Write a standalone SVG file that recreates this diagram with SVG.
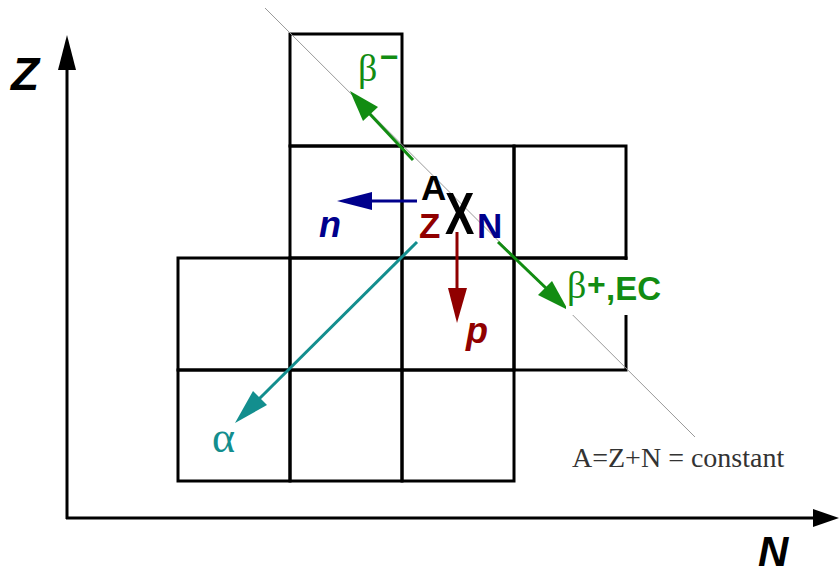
<svg xmlns="http://www.w3.org/2000/svg" width="840" height="576" viewBox="0 0 840 576">
<style>
.cell{fill:none;stroke:#000;stroke-width:3}
.ax{stroke:#000;stroke-width:3;fill:none}
.sans{font-family:"Liberation Sans",Arial,sans-serif;font-weight:bold}
.serif{font-family:"Liberation Serif","Times New Roman",serif}
.g{fill:#128c12}.gs{stroke:#128c12}
.b{fill:#00008c}.bs{stroke:#00008c}
.r{fill:#900000}.rs{stroke:#900000}
.t{fill:#138e8e}.ts{stroke:#138e8e}
.ln{stroke-width:3;fill:none}
</style>
<rect width="840" height="576" fill="#fff"/>
<g id="grid">
<rect class="cell" x="290" y="34" width="112" height="112"/>
<rect class="cell" x="290" y="146" width="112" height="112"/>
<rect class="cell" x="402" y="146" width="112" height="112"/>
<rect class="cell" x="514" y="146" width="112" height="112"/>
<rect class="cell" x="178" y="258" width="112" height="112"/>
<rect class="cell" x="290" y="258" width="112" height="112"/>
<rect class="cell" x="402" y="258" width="112" height="112"/>
<rect class="cell" x="514" y="258" width="112" height="112"/>
<rect class="cell" x="178" y="370" width="112" height="111"/>
<rect class="cell" x="290" y="370" width="112" height="111"/>
<rect class="cell" x="402" y="370" width="112" height="111"/>
</g>
<g id="axes">
<line class="ax" x1="67" y1="519" x2="67" y2="68"/>
<polygon points="67,35 58,70 76,70" fill="#000"/>
<line class="ax" x1="66" y1="518" x2="815" y2="518"/>
<polygon points="839,518 813,509 813,527" fill="#000"/>
<text class="sans" x="11" y="90" font-size="46" font-style="italic">Z</text>
<text class="sans" x="758" y="566" font-size="42" font-style="italic">N</text>
</g>
<g id="isobar">
<line x1="265" y1="8" x2="695" y2="437" stroke="#999" stroke-width="1"/>
<text class="serif" x="572" y="467" font-size="28" fill="#333">A=Z+N = constant</text>
</g>
<g id="connectors">
<line class="ln gs" x1="413" y1="160" x2="368" y2="112"/>
<polygon class="g" points="350,91 378,107 363,121"/>
<line class="ln gs" x1="498" y1="242" x2="548" y2="290"/>
<polygon class="g" points="568,310 538,295 552,281"/>
<line class="ln bs" x1="417" y1="201" x2="370" y2="201"/>
<polygon class="b" points="337,201 372,192 372,210"/>
<line class="ln rs" x1="457" y1="232" x2="457" y2="290"/>
<polygon class="r" points="457,323 448,288 467,288"/>
<line class="ln ts" x1="417" y1="242" x2="258" y2="400"/>
<polygon class="t" points="235,423 253,391 267,405"/>
</g>
<g id="nucleus">
<text class="sans" x="421" y="200" font-size="35" fill="#000">A</text>
<text class="sans" font-size="44" fill="#000" transform="translate(445,234) scale(1,1.33)">X</text>
<text class="sans r" x="419" y="238" font-size="35">Z</text>
<text class="sans b" x="477" y="238" font-size="35">N</text>
</g>
<g id="labels">
<text class="serif g" x="358" y="81" font-size="38">β</text>
<text class="sans g" x="380" y="68" font-size="32">−</text>
<rect x="566" y="260" width="100" height="55" fill="#fff"/>
<text class="serif g" x="567" y="298" font-size="38">β</text>
<text class="sans g" x="587" y="295" font-size="32">+</text>
<text class="sans g" x="606" y="300" font-size="33">,EC</text>
<text class="sans b" x="319" y="237" font-size="36" font-style="italic">n</text>
<text class="sans r" x="466" y="343" font-size="36" font-style="italic">p</text>
<text class="serif t" x="212" y="452" font-size="44">α</text>
</g>
</svg>
